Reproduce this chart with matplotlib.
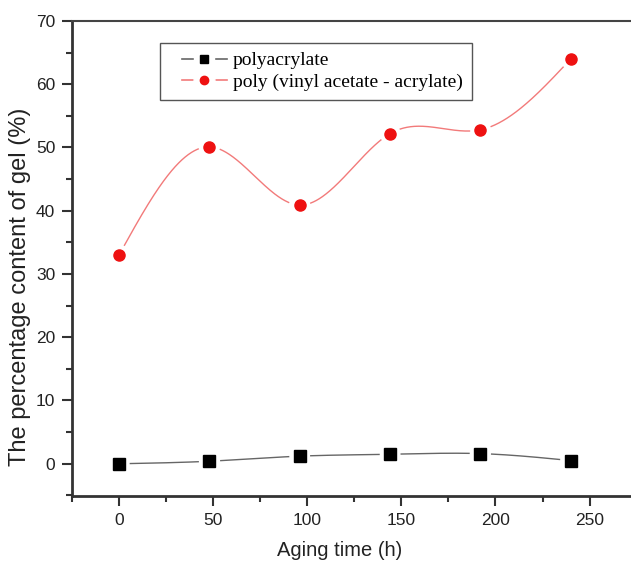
import numpy as np
import matplotlib.pyplot as plt
from matplotlib.lines import Line2D
from matplotlib.legend_handler import HandlerTuple
from matplotlib.ticker import MultipleLocator

# aging time (h)
hours = [0, 48, 96, 144, 192, 240]
# gel content (%)
polyacrylate = [0.0, 0.4, 1.2, 1.5, 1.6, 0.5]
poly_vac_acrylate = [33.0, 50.1, 40.9, 52.2, 52.8, 64.0]
labels = ["polyacrylate", "poly (vinyl acetate - acrylate)"]

X_LIM = (-25, 272)
Y_LIM = (-5.1, 70)


def natural_spline(x, y, xs):
    """Natural cubic spline through (x, y), evaluated at xs."""
    x = np.asarray(x, float)
    y = np.asarray(y, float)
    n = len(x)
    h = np.diff(x)
    A = np.zeros((n, n))
    r = np.zeros(n)
    A[0, 0] = A[-1, -1] = 1.0
    for i in range(1, n - 1):
        A[i, i - 1] = h[i - 1]
        A[i, i] = 2 * (h[i - 1] + h[i])
        A[i, i + 1] = h[i]
        r[i] = 3 * ((y[i + 1] - y[i]) / h[i] - (y[i] - y[i - 1]) / h[i - 1])
    c = np.linalg.solve(A, r)
    b = (y[1:] - y[:-1]) / h - h * (2 * c[:-1] + c[1:]) / 3
    d = (c[1:] - c[:-1]) / (3 * h)
    idx = np.clip(np.searchsorted(x, xs) - 1, 0, n - 2)
    t = xs - x[idx]
    return y[idx] + b[idx] * t + c[idx] * t**2 + d[idx] * t**3


def gapped_curve(x, y, px_x, px_y, gap=11.0):
    """Smooth curve with small gaps around each data point (Origin style)."""
    xs = np.linspace(x[0], x[-1], 1000)
    ys = natural_spline(x, y, xs)
    for xi, yi in zip(x, y):
        dist = np.hypot((xs - xi) * px_x, (ys - yi) * px_y)
        ys = np.where(dist < gap, np.nan, ys)
    return xs, ys


W, H = 631, 564
fig = plt.figure(figsize=(W / 100, H / 100), dpi=100)
left, right, top, bottom = 72, 631, 21, 496
ax = fig.add_axes([left / W, 1 - bottom / H, (right - left) / W, (bottom - top) / H])
ax.set_xlim(*X_LIM)
ax.set_ylim(*Y_LIM)

px_x = (right - left) / (X_LIM[1] - X_LIM[0])
px_y = (bottom - top) / (Y_LIM[1] - Y_LIM[0])

styles = [
    dict(line="#666666", marker="s", mcolor="black"),
    dict(line="#f27a7a", marker="o", mcolor="#ee1111"),
]
series = [polyacrylate, poly_vac_acrylate]

handles = []
for vals, st in zip(series, styles):
    xs, ys = gapped_curve(hours, vals, px_x, px_y)
    ax.plot(xs, ys, color=st["line"], lw=1.0)
    ax.plot(hours, vals, ls="none", marker=st["marker"], ms=8, color=st["mcolor"])
    # legend handle: line, white mask behind the marker, marker
    h_line = Line2D([], [], color=st["line"], lw=1.2)
    h_mask = Line2D([], [], ls="none", marker=st["marker"], ms=15, color="white")
    h_mark = Line2D([], [], ls="none", marker=st["marker"], ms=6, color=st["mcolor"])
    handles.append((h_line, h_mask, h_mark))

leg = ax.legend(handles, labels,
                loc="upper left",
                bbox_to_anchor=((160 - left) / (right - left),
                                (bottom - 43) / (bottom - top)),
                borderaxespad=0, fancybox=False, framealpha=1,
                edgecolor="#555555", handlelength=3.0, handletextpad=0.3,
                borderpad=0.45, labelspacing=0.2,
                handler_map={tuple: HandlerTuple(ndivide=1, xpad=0.67)},
                prop={"family": "Liberation Serif", "size": 14})
leg.get_frame().set_linewidth(1.0)

# axes styling
ax.spines["right"].set_visible(False)
for s in ("left", "bottom"):
    ax.spines[s].set_linewidth(2.0)
    ax.spines[s].set_color("#333333")
ax.spines["top"].set_linewidth(1.5)
ax.spines["top"].set_color("#444444")

ax.xaxis.set_major_locator(MultipleLocator(50))
ax.xaxis.set_minor_locator(MultipleLocator(25))
ax.yaxis.set_major_locator(MultipleLocator(10))
ax.yaxis.set_minor_locator(MultipleLocator(5))
ax.tick_params(which="both", direction="out", width=1.5, color="#333333",
               top=False, right=False)
ax.tick_params(which="major", length=7, labelsize=12.5, labelcolor="#222222", pad=5)
ax.tick_params(which="minor", length=4)
for lab in ax.get_xticklabels() + ax.get_yticklabels():
    lab.set_family("Liberation Sans")

ax.set_xlabel("Aging time (h)", fontsize=14.5, family="Liberation Sans", color="#222222")
ax.set_ylabel("The percentage content of gel (%)", fontsize=17,
              family="Liberation Sans", color="#222222")
ax.xaxis.set_label_coords((340 - left) / (right - left), -(541 - bottom) / (bottom - top))
ax.yaxis.set_label_coords(-(left - 31) / (right - left), (bottom - 287) / (bottom - top))

fig.savefig("out.png", dpi=100)
